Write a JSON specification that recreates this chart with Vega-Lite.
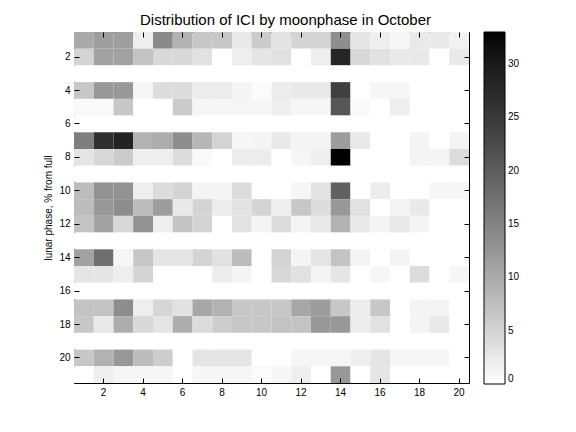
{
  "$schema": "https://vega.github.io/schema/vega-lite/v6.json",
  "width": 395,
  "height": 351,
  "autosize": "none",
  "padding": {"left": 74, "top": 32, "right": 107, "bottom": 49},
  "background": "white",
  "config": {
    "view": {"stroke": "black", "strokeWidth": 1},
    "font": "Liberation Sans",
    "axis": {
      "domain": false,
      "grid": false,
      "tickColor": "black",
      "tickSize": -5,
      "labelPadding": 9,
      "labelColor": "black",
      "labelFont": "Liberation Sans",
      "labelFontSize": 10,
      "labelAngle": 0
    }
  },
  "title": {
    "text": "Distribution of ICI by moonphase in October",
    "font": "Liberation Sans",
    "fontSize": 15,
    "fontWeight": "normal",
    "color": "black",
    "offset": 4,
    "dx": 14
  },
  "datasets": {
    "grid": [
      {"r":1,"c":1,"v":10},{"r":1,"c":2,"v":11.5},{"r":1,"c":3,"v":11.5},{"r":1,"c":4,"v":2},{"r":1,"c":5,"v":14},{"r":1,"c":6,"v":9},{"r":1,"c":7,"v":6.5},{"r":1,"c":8,"v":6.5},{"r":1,"c":9,"v":2.5},{"r":1,"c":10,"v":6},{"r":1,"c":11,"v":3.2},{"r":1,"c":12,"v":5},{"r":1,"c":13,"v":5},{"r":1,"c":14,"v":13.5},{"r":1,"c":15,"v":3},{"r":1,"c":16,"v":2},{"r":1,"c":17,"v":1},{"r":1,"c":18,"v":2.5},{"r":1,"c":19,"v":2.5},{"r":1,"c":20,"v":1.5},
      {"r":2,"c":1,"v":5},{"r":2,"c":2,"v":11},{"r":2,"c":3,"v":11},{"r":2,"c":4,"v":7},{"r":2,"c":5,"v":4.5},{"r":2,"c":6,"v":4.5},{"r":2,"c":7,"v":3.5},{"r":2,"c":8,"v":0},{"r":2,"c":9,"v":2},{"r":2,"c":10,"v":3},{"r":2,"c":11,"v":3.5},{"r":2,"c":12,"v":0},{"r":2,"c":13,"v":2},{"r":2,"c":14,"v":28},{"r":2,"c":15,"v":4.5},{"r":2,"c":16,"v":3.5},{"r":2,"c":17,"v":2.5},{"r":2,"c":18,"v":2.5},{"r":2,"c":19,"v":0},{"r":2,"c":20,"v":2.5},
      {"r":3,"c":1,"v":0},{"r":3,"c":2,"v":0},{"r":3,"c":3,"v":0},{"r":3,"c":4,"v":0},{"r":3,"c":5,"v":0},{"r":3,"c":6,"v":0},{"r":3,"c":7,"v":0},{"r":3,"c":8,"v":0},{"r":3,"c":9,"v":0},{"r":3,"c":10,"v":0},{"r":3,"c":11,"v":0},{"r":3,"c":12,"v":0},{"r":3,"c":13,"v":0},{"r":3,"c":14,"v":0},{"r":3,"c":15,"v":0},{"r":3,"c":16,"v":0},{"r":3,"c":17,"v":0},{"r":3,"c":18,"v":0},{"r":3,"c":19,"v":0},{"r":3,"c":20,"v":0},
      {"r":4,"c":1,"v":6.5},{"r":4,"c":2,"v":12.3},{"r":4,"c":3,"v":12.3},{"r":4,"c":4,"v":1},{"r":4,"c":5,"v":4},{"r":4,"c":6,"v":4},{"r":4,"c":7,"v":2.2},{"r":4,"c":8,"v":2.2},{"r":4,"c":9,"v":1.3},{"r":4,"c":10,"v":0.5},{"r":4,"c":11,"v":2.2},{"r":4,"c":12,"v":2.5},{"r":4,"c":13,"v":2.5},{"r":4,"c":14,"v":24},{"r":4,"c":15,"v":0},{"r":4,"c":16,"v":1},{"r":4,"c":17,"v":1},{"r":4,"c":18,"v":0},{"r":4,"c":19,"v":0},{"r":4,"c":20,"v":0},
      {"r":5,"c":1,"v":0.7},{"r":5,"c":2,"v":0.7},{"r":5,"c":3,"v":6.5},{"r":5,"c":4,"v":0},{"r":5,"c":5,"v":0},{"r":5,"c":6,"v":6},{"r":5,"c":7,"v":1},{"r":5,"c":8,"v":1},{"r":5,"c":9,"v":1},{"r":5,"c":10,"v":1},{"r":5,"c":11,"v":2},{"r":5,"c":12,"v":1},{"r":5,"c":13,"v":1},{"r":5,"c":14,"v":21},{"r":5,"c":15,"v":0.7},{"r":5,"c":16,"v":0},{"r":5,"c":17,"v":2},{"r":5,"c":18,"v":0},{"r":5,"c":19,"v":0},{"r":5,"c":20,"v":0},
      {"r":6,"c":1,"v":0},{"r":6,"c":2,"v":0},{"r":6,"c":3,"v":0},{"r":6,"c":4,"v":0},{"r":6,"c":5,"v":0},{"r":6,"c":6,"v":0},{"r":6,"c":7,"v":0},{"r":6,"c":8,"v":0},{"r":6,"c":9,"v":0},{"r":6,"c":10,"v":0},{"r":6,"c":11,"v":0},{"r":6,"c":12,"v":0},{"r":6,"c":13,"v":0},{"r":6,"c":14,"v":0},{"r":6,"c":15,"v":0},{"r":6,"c":16,"v":0},{"r":6,"c":17,"v":0},{"r":6,"c":18,"v":0},{"r":6,"c":19,"v":0},{"r":6,"c":20,"v":0},
      {"r":7,"c":1,"v":15.5},{"r":7,"c":2,"v":26.5},{"r":7,"c":3,"v":28.5},{"r":7,"c":4,"v":9},{"r":7,"c":5,"v":9.7},{"r":7,"c":6,"v":13.6},{"r":7,"c":7,"v":8.4},{"r":7,"c":8,"v":5},{"r":7,"c":9,"v":1},{"r":7,"c":10,"v":1.3},{"r":7,"c":11,"v":2.5},{"r":7,"c":12,"v":1.3},{"r":7,"c":13,"v":1.3},{"r":7,"c":14,"v":11.6},{"r":7,"c":15,"v":2.5},{"r":7,"c":16,"v":0},{"r":7,"c":17,"v":0},{"r":7,"c":18,"v":1.3},{"r":7,"c":19,"v":0},{"r":7,"c":20,"v":1.3},
      {"r":8,"c":1,"v":3},{"r":8,"c":2,"v":4.5},{"r":8,"c":3,"v":6},{"r":8,"c":4,"v":2},{"r":8,"c":5,"v":2},{"r":8,"c":6,"v":4},{"r":8,"c":7,"v":0.7},{"r":8,"c":8,"v":0},{"r":8,"c":9,"v":2.2},{"r":8,"c":10,"v":2.2},{"r":8,"c":11,"v":0},{"r":8,"c":12,"v":1},{"r":8,"c":13,"v":2},{"r":8,"c":14,"v":33},{"r":8,"c":15,"v":0},{"r":8,"c":16,"v":0},{"r":8,"c":17,"v":0},{"r":8,"c":18,"v":1.3},{"r":8,"c":19,"v":1.3},{"r":8,"c":20,"v":4},
      {"r":9,"c":1,"v":0},{"r":9,"c":2,"v":0},{"r":9,"c":3,"v":0},{"r":9,"c":4,"v":0},{"r":9,"c":5,"v":0},{"r":9,"c":6,"v":0},{"r":9,"c":7,"v":0},{"r":9,"c":8,"v":0},{"r":9,"c":9,"v":0},{"r":9,"c":10,"v":0},{"r":9,"c":11,"v":0},{"r":9,"c":12,"v":0},{"r":9,"c":13,"v":0},{"r":9,"c":14,"v":0},{"r":9,"c":15,"v":0},{"r":9,"c":16,"v":0},{"r":9,"c":17,"v":0},{"r":9,"c":18,"v":0},{"r":9,"c":19,"v":0},{"r":9,"c":20,"v":0},
      {"r":10,"c":1,"v":7.8},{"r":10,"c":2,"v":13},{"r":10,"c":3,"v":13},{"r":10,"c":4,"v":2},{"r":10,"c":5,"v":4},{"r":10,"c":6,"v":5},{"r":10,"c":7,"v":1.3},{"r":10,"c":8,"v":1.3},{"r":10,"c":9,"v":4},{"r":10,"c":10,"v":0},{"r":10,"c":11,"v":0},{"r":10,"c":12,"v":1},{"r":10,"c":13,"v":3.2},{"r":10,"c":14,"v":19.4},{"r":10,"c":15,"v":0},{"r":10,"c":16,"v":2.2},{"r":10,"c":17,"v":0},{"r":10,"c":18,"v":0},{"r":10,"c":19,"v":1},{"r":10,"c":20,"v":1},
      {"r":11,"c":1,"v":7.8},{"r":11,"c":2,"v":12.3},{"r":11,"c":3,"v":13.6},{"r":11,"c":4,"v":7.8},{"r":11,"c":5,"v":11.6},{"r":11,"c":6,"v":2.5},{"r":11,"c":7,"v":5},{"r":11,"c":8,"v":2.2},{"r":11,"c":9,"v":3.2},{"r":11,"c":10,"v":5},{"r":11,"c":11,"v":2},{"r":11,"c":12,"v":6.5},{"r":11,"c":13,"v":4},{"r":11,"c":14,"v":12.3},{"r":11,"c":15,"v":3.5},{"r":11,"c":16,"v":0},{"r":11,"c":17,"v":1.3},{"r":11,"c":18,"v":2.5},{"r":11,"c":19,"v":0},{"r":11,"c":20,"v":0},
      {"r":12,"c":1,"v":7},{"r":12,"c":2,"v":11},{"r":12,"c":3,"v":4.5},{"r":12,"c":4,"v":13},{"r":12,"c":5,"v":2},{"r":12,"c":6,"v":7},{"r":12,"c":7,"v":5},{"r":12,"c":8,"v":0},{"r":12,"c":9,"v":3.2},{"r":12,"c":10,"v":1.3},{"r":12,"c":11,"v":4},{"r":12,"c":12,"v":1.3},{"r":12,"c":13,"v":2.5},{"r":12,"c":14,"v":9},{"r":12,"c":15,"v":2.5},{"r":12,"c":16,"v":1.3},{"r":12,"c":17,"v":2.5},{"r":12,"c":18,"v":1.3},{"r":12,"c":19,"v":0},{"r":12,"c":20,"v":0},
      {"r":13,"c":1,"v":0},{"r":13,"c":2,"v":0},{"r":13,"c":3,"v":0},{"r":13,"c":4,"v":0},{"r":13,"c":5,"v":0},{"r":13,"c":6,"v":0},{"r":13,"c":7,"v":0},{"r":13,"c":8,"v":0},{"r":13,"c":9,"v":0},{"r":13,"c":10,"v":0},{"r":13,"c":11,"v":0},{"r":13,"c":12,"v":0},{"r":13,"c":13,"v":0},{"r":13,"c":14,"v":0},{"r":13,"c":15,"v":0},{"r":13,"c":16,"v":0},{"r":13,"c":17,"v":0},{"r":13,"c":18,"v":0},{"r":13,"c":19,"v":0},{"r":13,"c":20,"v":0},
      {"r":14,"c":1,"v":11},{"r":14,"c":2,"v":17.5},{"r":14,"c":3,"v":1},{"r":14,"c":4,"v":6.5},{"r":14,"c":5,"v":3},{"r":14,"c":6,"v":3},{"r":14,"c":7,"v":5},{"r":14,"c":8,"v":3.5},{"r":14,"c":9,"v":7.8},{"r":14,"c":10,"v":0},{"r":14,"c":11,"v":5},{"r":14,"c":12,"v":1.3},{"r":14,"c":13,"v":3},{"r":14,"c":14,"v":7},{"r":14,"c":15,"v":1.3},{"r":14,"c":16,"v":0},{"r":14,"c":17,"v":1.3},{"r":14,"c":18,"v":0},{"r":14,"c":19,"v":0},{"r":14,"c":20,"v":0},
      {"r":15,"c":1,"v":3},{"r":15,"c":2,"v":3},{"r":15,"c":3,"v":2},{"r":15,"c":4,"v":5},{"r":15,"c":5,"v":0},{"r":15,"c":6,"v":0},{"r":15,"c":7,"v":0},{"r":15,"c":8,"v":2.2},{"r":15,"c":9,"v":1.3},{"r":15,"c":10,"v":0},{"r":15,"c":11,"v":4.5},{"r":15,"c":12,"v":3.5},{"r":15,"c":13,"v":1.3},{"r":15,"c":14,"v":3},{"r":15,"c":15,"v":0},{"r":15,"c":16,"v":1},{"r":15,"c":17,"v":0},{"r":15,"c":18,"v":4},{"r":15,"c":19,"v":0},{"r":15,"c":20,"v":1},
      {"r":16,"c":1,"v":0},{"r":16,"c":2,"v":0},{"r":16,"c":3,"v":0},{"r":16,"c":4,"v":0},{"r":16,"c":5,"v":0},{"r":16,"c":6,"v":0},{"r":16,"c":7,"v":0},{"r":16,"c":8,"v":0},{"r":16,"c":9,"v":0},{"r":16,"c":10,"v":0},{"r":16,"c":11,"v":0},{"r":16,"c":12,"v":0},{"r":16,"c":13,"v":0},{"r":16,"c":14,"v":0},{"r":16,"c":15,"v":0},{"r":16,"c":16,"v":0},{"r":16,"c":17,"v":0},{"r":16,"c":18,"v":0},{"r":16,"c":19,"v":0},{"r":16,"c":20,"v":0},
      {"r":17,"c":1,"v":7},{"r":17,"c":2,"v":7},{"r":17,"c":3,"v":13.6},{"r":17,"c":4,"v":2},{"r":17,"c":5,"v":4.8},{"r":17,"c":6,"v":3.5},{"r":17,"c":7,"v":10.4},{"r":17,"c":8,"v":9},{"r":17,"c":9,"v":6.5},{"r":17,"c":10,"v":6.5},{"r":17,"c":11,"v":6.5},{"r":17,"c":12,"v":10.4},{"r":17,"c":13,"v":11.6},{"r":17,"c":14,"v":6.5},{"r":17,"c":15,"v":2.2},{"r":17,"c":16,"v":6.5},{"r":17,"c":17,"v":0},{"r":17,"c":18,"v":1.3},{"r":17,"c":19,"v":1.3},{"r":17,"c":20,"v":0},
      {"r":18,"c":1,"v":6.5},{"r":18,"c":2,"v":2.5},{"r":18,"c":3,"v":9.7},{"r":18,"c":4,"v":4.5},{"r":18,"c":5,"v":3},{"r":18,"c":6,"v":9.7},{"r":18,"c":7,"v":4},{"r":18,"c":8,"v":5.8},{"r":18,"c":9,"v":6.5},{"r":18,"c":10,"v":6.5},{"r":18,"c":11,"v":7},{"r":18,"c":12,"v":7},{"r":18,"c":13,"v":12.3},{"r":18,"c":14,"v":12.3},{"r":18,"c":15,"v":2.2},{"r":18,"c":16,"v":3.5},{"r":18,"c":17,"v":0},{"r":18,"c":18,"v":1.3},{"r":18,"c":19,"v":2.5},{"r":18,"c":20,"v":0},
      {"r":19,"c":1,"v":0},{"r":19,"c":2,"v":0},{"r":19,"c":3,"v":0},{"r":19,"c":4,"v":0},{"r":19,"c":5,"v":0},{"r":19,"c":6,"v":0},{"r":19,"c":7,"v":0},{"r":19,"c":8,"v":0},{"r":19,"c":9,"v":0},{"r":19,"c":10,"v":0},{"r":19,"c":11,"v":0},{"r":19,"c":12,"v":0},{"r":19,"c":13,"v":0},{"r":19,"c":14,"v":0},{"r":19,"c":15,"v":0},{"r":19,"c":16,"v":0},{"r":19,"c":17,"v":0},{"r":19,"c":18,"v":0},{"r":19,"c":19,"v":0},{"r":19,"c":20,"v":0},
      {"r":20,"c":1,"v":6.5},{"r":20,"c":2,"v":9},{"r":20,"c":3,"v":12.3},{"r":20,"c":4,"v":7.8},{"r":20,"c":5,"v":5.8},{"r":20,"c":6,"v":0},{"r":20,"c":7,"v":3},{"r":20,"c":8,"v":3},{"r":20,"c":9,"v":3},{"r":20,"c":10,"v":0},{"r":20,"c":11,"v":0},{"r":20,"c":12,"v":1},{"r":20,"c":13,"v":1},{"r":20,"c":14,"v":1},{"r":20,"c":15,"v":2},{"r":20,"c":16,"v":3},{"r":20,"c":17,"v":1},{"r":20,"c":18,"v":1},{"r":20,"c":19,"v":1},{"r":20,"c":20,"v":0},
      {"r":21,"c":1,"v":0},{"r":21,"c":2,"v":2},{"r":21,"c":3,"v":1},{"r":21,"c":4,"v":1},{"r":21,"c":5,"v":1},{"r":21,"c":6,"v":0},{"r":21,"c":7,"v":1},{"r":21,"c":8,"v":1},{"r":21,"c":9,"v":1},{"r":21,"c":10,"v":0.5},{"r":21,"c":11,"v":1},{"r":21,"c":12,"v":2},{"r":21,"c":13,"v":0},{"r":21,"c":14,"v":12.3},{"r":21,"c":15,"v":0},{"r":21,"c":16,"v":3},{"r":21,"c":17,"v":0},{"r":21,"c":18,"v":0},{"r":21,"c":19,"v":0},{"r":21,"c":20,"v":0}
    ]
  },
  "data": {"name": "grid"},
  "resolve": {"axis": {"x": "independent", "y": "independent"}},
  "layer": [
    {
      "mark": {"type": "rect", "strokeWidth": 0},
      "encoding": {
        "x": {
          "field": "c", "type": "ordinal",
          "scale": {"domain": [1,2,3,4,5,6,7,8,9,10,11,12,13,14,15,16,17,18,19,20], "paddingInner": 0, "paddingOuter": 0},
          "axis": {"orient": "bottom", "values": [2,4,6,8,10,12,14,16,18,20], "title": null}
        },
        "y": {
          "field": "r", "type": "ordinal",
          "scale": {"domain": [1,2,3,4,5,6,7,8,9,10,11,12,13,14,15,16,17,18,19,20,21], "paddingInner": 0, "paddingOuter": 0},
          "axis": {"orient": "left", "values": [2,4,6,8,10,12,14,16,18,20], "title": "lunar phase, % from full", "titleFont": "Liberation Sans", "titleFontSize": 10, "titleFontWeight": "normal", "titleColor": "black", "titlePadding": 5}
        },
        "color": {
          "field": "v", "type": "quantitative",
          "scale": {"domain": [0, 33], "range": ["#ffffff", "#000000"]},
          "legend": {
            "orient": "right",
            "offset": 14,
            "padding": 0,
            "title": null,
            "direction": "vertical",
            "gradientLength": 352,
            "gradientThickness": 21,
            "gradientStrokeColor": "black",
            "gradientStrokeWidth": 1,
            "values": [0, 5, 10, 15, 20, 25, 30],
            "labelFont": "Liberation Sans",
            "labelFontSize": 10,
            "labelColor": "black",
            "labelOffset": 3
          }
        }
      }
    },
    {
      "mark": {"type": "rect", "opacity": 0},
      "encoding": {
        "x": {
          "field": "c", "type": "ordinal",
          "axis": {"orient": "top", "values": [2,4,6,8,10,12,14,16,18,20], "labels": false, "title": null}
        },
        "y": {
          "field": "r", "type": "ordinal",
          "axis": {"orient": "right", "values": [2,4,6,8,10,12,14,16,18,20], "labels": false, "title": null}
        }
      }
    }
  ]
}
